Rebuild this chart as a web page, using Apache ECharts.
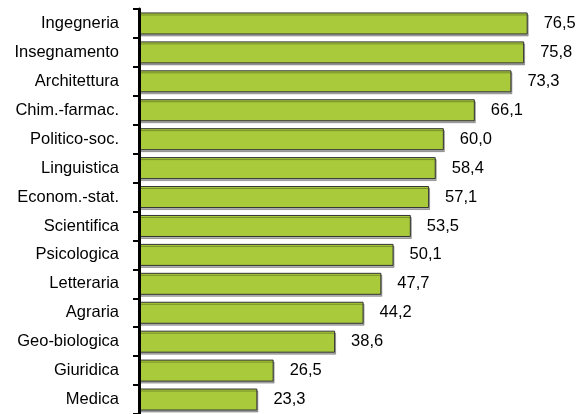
<!DOCTYPE html>
<html>
<head>
<meta charset="utf-8">
<script src="https://cdn.jsdelivr.net/npm/echarts@6/dist/echarts.min.js"></script>
<style>
  html, body { margin: 0; padding: 0; background: #fff; }
  #chart { width: 579px; height: 414px; }
</style>
</head>
<body>
<div id="chart"></div>
<script>
// Graduate employment rate by field of study (percent)
const categories = [
  'Ingegneria', 'Insegnamento', 'Architettura', 'Chim.-farmac.', 'Politico-soc.',
  'Linguistica', 'Econom.-stat.', 'Scientifica', 'Psicologica', 'Letteraria',
  'Agraria', 'Geo-biologica', 'Giuridica', 'Medica'
];
const values = [76.5, 75.8, 73.3, 66.1, 60.0, 58.4, 57.1, 53.5, 50.1, 47.7, 44.2, 38.6, 26.5, 23.3];

const font = '"Liberation Sans", Arial, sans-serif';
const chart = echarts.init(document.getElementById('chart'));

chart.setOption({
  animation: false,
  grid: { left: 139, top: 9, right: 0, height: 406 },
  xAxis: {
    type: 'value',
    min: 0,
    max: 86.6,
    show: false
  },
  yAxis: {
    type: 'category',
    inverse: true,
    data: categories,
    axisLine: { show: true, lineStyle: { color: '#000', width: 3 } },
    axisTick: { show: true, length: 6, lineStyle: { color: '#000', width: 2 } },
    axisLabel: {
      margin: 20,
      color: '#000',
      fontFamily: font,
      fontSize: 16.5
    },
    z: 5
  },
  series: [{
    type: 'bar',
    data: values,
    barWidth: 22,
    itemStyle: {
      color: '#a9cb3b',
      borderColor: '#333',
      borderWidth: 1,
      shadowColor: 'rgba(0,0,0,0.3)',
      shadowOffsetX: 1,
      shadowOffsetY: 2,
      shadowBlur: 0
    },
    label: {
      show: true,
      position: 'right',
      distance: 16,
      color: '#000',
      fontFamily: font,
      fontSize: 16.5,
      formatter: p => p.value.toFixed(1).replace('.', ',')
    }
  }]
});
</script>
</body>
</html>
